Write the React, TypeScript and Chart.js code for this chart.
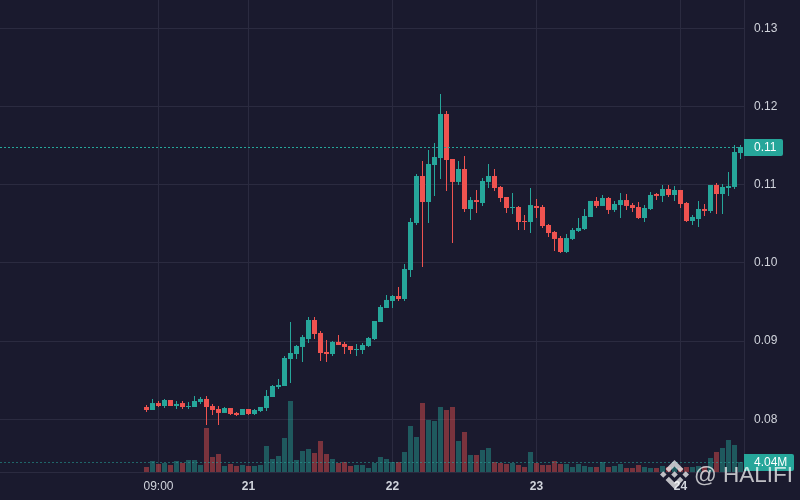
import React, { useEffect, useRef } from "react";
import { Chart, registerables } from "chart.js";

Chart.register(...registerables);

const opens = [.08157,.08119,.08208,.08170,.08247,.08170,.08208,.08157,.08157,.08221,.08260,.08170,.08132,.08081,.08144,.08081,.08055,.08132,.08068,.08106,
.08144,.08285,.08413,.08426,.08771,.08835,.08925,.09027,.09270,.09104,.08861,.08835,.08989,.08963,.08937,.08886,.08886,.08937,.09027,.09244,
.09423,.09513,.09577,.09538,.09909,.10510,.11111,.10779,.11252,.11341,.11904,.11329,.11035,.11201,.10689,.10804,.10766,.11035,.11111,.10971,
.10843,.10702,.10715,.10536,.10523,.10728,.10715,.10485,.10395,.10318,.10139,.10306,.10408,.10433,.10587,.10792,.10728,.10830,.10677,.10740,
.10804,.10740,.10715,.10574,.10689,.10881,.10856,.10945,.10868,.10932,.10766,.10536,.10561,.10689,.10664,.10996,.10881,.10958,.10971,.11405];
const highs = [.08183,.08260,.08234,.08260,.08247,.08234,.08234,.08221,.08298,.08285,.08298,.08196,.08170,.08157,.08144,.08093,.08132,.08132,.08132,.08157,
.08375,.08439,.08515,.08809,.09244,.08950,.09078,.09308,.09308,.09129,.09014,.09001,.09078,.08989,.08937,.08963,.08976,.09052,.09257,.09462,
.09590,.09590,.09692,.09986,.10574,.11137,.11303,.11444,.11533,.12160,.11943,.11329,.11303,.11367,.10843,.10932,.11086,.11265,.11201,.10983,
.10843,.10894,.10728,.10613,.10958,.10817,.10740,.10497,.10408,.10344,.10370,.10446,.10574,.10689,.10792,.10843,.10868,.10843,.10792,.10894,
.10881,.10766,.10779,.10740,.10907,.10894,.10996,.10996,.10983,.10932,.10779,.10613,.10792,.10753,.10996,.11022,.11009,.11162,.11508,.11508];
const lows = [.08093,.08119,.08157,.08144,.08170,.08132,.08132,.08132,.08157,.08196,.07927,.08055,.07927,.08081,.08055,.08042,.08055,.08055,.08055,.08093,
.08106,.08285,.08387,.08426,.08464,.08771,.08733,.08976,.09027,.08746,.08733,.08809,.08950,.08835,.08835,.08809,.08835,.08925,.09014,.09244,
.09423,.09423,.09513,.09513,.09820,.10485,.09948,.10510,.10856,.11073,.10920,.10255,.10996,.10651,.10549,.10638,.10728,.10958,.10920,.10779,
.10638,.10625,.10421,.10421,.10382,.10574,.10446,.10331,.10152,.10127,.10127,.10293,.10395,.10421,.10587,.10702,.10728,.10625,.10651,.10574,
.10677,.10651,.10561,.10523,.10677,.10804,.10779,.10843,.10792,.10702,.10523,.10485,.10459,.10600,.10638,.10625,.10625,.10856,.10945,.11329];
const closes = [.08119,.08208,.08170,.08247,.08170,.08196,.08157,.08170,.08234,.08260,.08157,.08119,.08081,.08144,.08068,.08055,.08132,.08068,.08119,.08157,
.08298,.08426,.08439,.08784,.08848,.08937,.09052,.09270,.09091,.08848,.08835,.08989,.08950,.08925,.08886,.08899,.08950,.09040,.09257,.09436,
.09526,.09577,.09538,.09922,.10523,.11111,.10779,.11265,.11354,.11904,.11316,.11035,.11201,.10689,.10804,.10779,.11047,.11111,.10958,.10830,
.10702,.10715,.10523,.10523,.10740,.10702,.10472,.10382,.10306,.10139,.10318,.10421,.10446,.10600,.10792,.10728,.10830,.10677,.10753,.10804,
.10728,.10702,.10574,.10702,.10868,.10856,.10945,.10868,.10932,.10753,.10536,.10587,.10689,.10664,.10996,.10881,.10971,.10983,.11418,.11482];
const volumesM = [2.02,4.44,3.23,3.64,2.83,4.44,3.64,4.85,4.85,2.83,17.78,6.06,7.27,2.42,3.23,2.42,2.83,2.42,2.42,2.83,
10.50,5.25,6.46,13.74,28.68,4.85,8.48,9.29,7.68,12.52,7.27,5.25,3.64,4.04,2.42,2.83,2.83,1.62,3.64,6.06,
5.25,4.04,4.04,8.08,18.58,14.14,27.88,21.01,20.60,26.26,25.05,26.26,12.52,16.16,6.87,6.87,8.89,9.70,4.04,3.64,
3.23,3.64,2.83,2.02,8.08,3.64,2.83,2.83,4.44,3.23,3.23,2.02,3.23,2.42,2.02,2.02,4.04,2.02,2.42,3.23,
1.62,1.62,2.83,2.02,1.62,1.62,2.42,2.02,2.02,1.62,2.02,2.02,2.42,2.02,5.66,8.08,9.70,12.93,10.91,4.04];
const timeTickIndex = [2, 17, 41, 65, 89];
const timeTickLabels = ["09:00", "21", "22", "23", "24"];
const priceTicks = [0.08, 0.09, 0.1, 0.11, 0.12, 0.13];

const BG = "#1a1a2e";
const GRID = "#2b2b40";
const UP = "#26a69a";
const DOWN = "#ef5350";
const TEXT = "#d1d4dc";
const FONT = "'Liberation Sans', Arial, sans-serif";
const LOGO = [
  "M38.73 53.2l24.59-24.58 24.6 24.6 14.3-14.31L63.32 0 24.42 38.9z",
  "M0 63.31l14.3-14.31 14.31 14.31-14.31 14.3z",
  "M38.73 73.41 63.32 98l24.6-24.6 14.31 14.29-38.9 38.91-38.91-38.88z",
  "M98 63.31l14.3-14.31 14.31 14.31-14.31 14.3z",
  "M77.83 63.3 63.32 48.78 52.59 59.51l-1.24 1.23-2.54 2.54 14.51 14.52 14.51-14.5z",
];

const overlay = {
  id: "overlay",
  afterDraw(chart: any) {
    const { ctx, chartArea, scales } = chart;
    const right = chartArea.right;
    const priceY = Math.floor(scales.y.getPixelForValue(closes[closes.length - 1])) + 0.5;
    const lastVol = volumesM[volumesM.length - 1];
    const volY = Math.floor(scales.y2.getPixelForValue(lastVol)) + 0.5;
    ctx.save();
    ctx.lineWidth = 1;
    ctx.setLineDash([2, 2]);
    ctx.strokeStyle = UP;
    ctx.beginPath();
    ctx.moveTo(0, priceY);
    ctx.lineTo(right, priceY);
    ctx.stroke();
    ctx.strokeStyle = "rgba(38,166,154,0.55)";
    ctx.beginPath();
    ctx.moveTo(0, volY);
    ctx.lineTo(right, volY);
    ctx.stroke();
    ctx.setLineDash([]);

    const tag = (y: number, w: number, text: string) => {
      ctx.fillStyle = UP;
      ctx.beginPath();
      ctx.roundRect(right, y - 8.5, w, 17, [0, 2, 2, 0]);
      ctx.fill();
      ctx.fillStyle = "#ffffff";
      ctx.font = `12px ${FONT}`;
      ctx.textAlign = "left";
      ctx.textBaseline = "middle";
      ctx.fillText(text, right + 10, y + 0.5);
    };
    tag(priceY, 39, closes[closes.length - 1].toFixed(2));
    tag(volY, 50, lastVol.toFixed(2) + "M");

    ctx.globalAlpha = 0.72;
    ctx.fillStyle = "#ffffff";
    ctx.save();
    ctx.translate(660, 460);
    ctx.scale(29 / 126.61, 29 / 126.61);
    LOGO.forEach((d) => ctx.fill(new Path2D(d)));
    ctx.restore();
    ctx.font = `22.5px ${FONT}`;
    ctx.textAlign = "left";
    ctx.textBaseline = "alphabetic";
    ctx.fillText("@ HALIFI", 694, 482);
    ctx.restore();
  },
};

export default function App() {
  const ref = useRef<HTMLCanvasElement | null>(null);
  useEffect(() => {
    document.body.style.margin = "0";
    document.body.style.background = BG;
    const isUp = closes.map((c, i) => c >= opens[i]);
    const colors = isUp.map((u) => (u ? UP : DOWN));
    const volColors = isUp.map((u) => (u ? "rgba(38,166,154,0.45)" : "rgba(239,83,80,0.45)"));
    const chart = new Chart(ref.current as HTMLCanvasElement, {
      type: "bar",
      data: {
        datasets: [
          {
            label: "Wick",
            data: highs.map((h, i) => ({ x: i, y: [lows[i], h] })),
            backgroundColor: colors,
            barThickness: 1,
            inflateAmount: 0,
            grouped: false,
            order: 2,
            yAxisID: "y",
          },
          {
            label: "Body",
            data: opens.map((o, i) => ({ x: i, y: [o, closes[i]] })),
            backgroundColor: colors,
            barThickness: 5,
            inflateAmount: 0,
            grouped: false,
            order: 1,
            yAxisID: "y",
          },
          {
            label: "Volume",
            data: volumesM.map((v, i) => ({ x: i, y: v })),
            backgroundColor: volColors,
            barThickness: 5,
            inflateAmount: 0,
            grouped: false,
            order: 3,
            yAxisID: "y2",
          },
        ] as any,
      },
      options: {
        responsive: false,
        animation: false,
        devicePixelRatio: 1,
        layout: { padding: 0, autoPadding: false },
        plugins: { legend: { display: false }, tooltip: { enabled: false } },
        scales: {
          x: {
            type: "linear",
            offset: false,
            min: -146.5 / 6,
            max: 597.5 / 6,
            grid: { color: GRID, drawTicks: false, offset: false },
            border: { display: true, color: GRID },
            afterFit: (s: any) => { s.height = 28; s.paddingLeft = 0; s.paddingRight = 0; },
            afterBuildTicks: (s: any) => { s.ticks = timeTickIndex.map((value) => ({ value })); },
            ticks: {
              autoSkip: false,
              maxRotation: 0,
              padding: 7,
              color: TEXT,
              font: (c: any) => ({
                size: 12,
                family: FONT,
                weight: c.tick && c.tick.value === timeTickIndex[0] ? "normal" : "bold",
              }),
              callback: (v: any) => timeTickLabels[timeTickIndex.indexOf(v)] ?? "",
            },
          },
          y: {
            position: "right",
            min: 0.07326,
            max: 0.13362,
            grid: { color: GRID, drawTicks: false },
            border: { display: true, color: GRID },
            afterFit: (s: any) => { s.width = 56; s.paddingTop = 0; s.paddingBottom = 0; },
            afterBuildTicks: (s: any) => { s.ticks = priceTicks.map((value) => ({ value })); },
            ticks: {
              autoSkip: false,
              padding: 10,
              color: TEXT,
              font: { size: 12, family: FONT },
              callback: (v: any) => Number(v).toFixed(2),
            },
          },
          y2: { display: false, position: "right", min: 0, max: 190.69 },
        },
      } as any,
      plugins: [overlay],
    });
    return () => chart.destroy();
  }, []);
  return (
    <div style={{ width: 800, height: 500, background: BG }}>
      <canvas ref={ref} width={800} height={500} style={{ display: "block" }} />
    </div>
  );
}
